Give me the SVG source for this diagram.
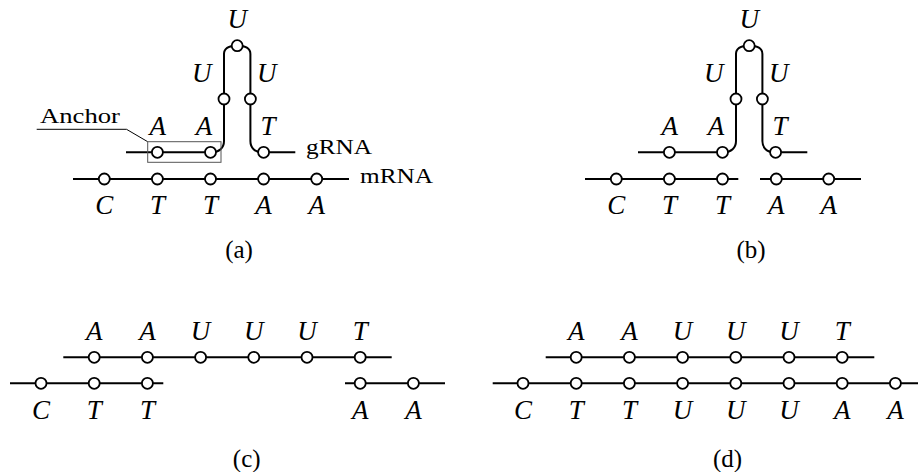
<svg xmlns="http://www.w3.org/2000/svg" width="918" height="472" viewBox="0 0 918 472">
<style>
.s{fill:none;stroke:#000;stroke-width:2}
.n{fill:#fff;stroke:#000;stroke-width:1.8}
.l{font-family:"Liberation Serif","Times New Roman","DejaVu Serif",serif;font-style:italic;font-size:27px;text-anchor:middle;fill:#000}
.t{font-family:"Liberation Serif","Times New Roman","DejaVu Serif",serif;font-size:22px;fill:#000}
.c{font-family:"Liberation Serif","Times New Roman","DejaVu Serif",serif;font-size:25px;text-anchor:middle;fill:#000}
.box{fill:none;stroke:#555;stroke-width:1}
.lead{fill:none;stroke:#000;stroke-width:1}
</style>
<defs>
<circle id="dot" r="5.5" class="n"/>
</defs>

<!-- Panel (a) -->
<g id="panel-a">
  <g id="a-connectors">
    <path class="s" d="M73,179 H349"/>
    <path class="s" d="M126,152.3 H212 C219,152.3 224,148 224,141 V54 C224,48 230,45.7 237.2,45.7 C244.4,45.7 250.4,48 250.4,54 V141 C250.4,148 255,152.3 262,152.3 H295.3"/>
    <path class="lead" d="M36.7,129.3 H126.5 L147.7,141.7"/>
  </g>
  <rect id="a-anchor-box" class="box" x="147.7" y="141.7" width="73.3" height="20.6"/>
  <text id="a-anchor-label" class="t" x="40" y="123" textLength="80" lengthAdjust="spacingAndGlyphs">Anchor</text>
  <text id="a-grna-label" class="t" x="306" y="154.3" textLength="66" lengthAdjust="spacingAndGlyphs">gRNA</text>
  <text id="a-mrna-label" class="t" x="360" y="183.3" textLength="73" lengthAdjust="spacingAndGlyphs">mRNA</text>
  <g id="a-m1"><use href="#dot" x="104.3" y="179"/><text class="l" x="104.3" y="214">C</text></g>
  <g id="a-m2"><use href="#dot" x="157.4" y="179"/><text class="l" x="157.4" y="214">T</text></g>
  <g id="a-m3"><use href="#dot" x="210.5" y="179"/><text class="l" x="210.5" y="214">T</text></g>
  <g id="a-m4"><use href="#dot" x="263.6" y="179"/><text class="l" x="263.6" y="214">A</text></g>
  <g id="a-m5"><use href="#dot" x="316.7" y="179"/><text class="l" x="316.7" y="214">A</text></g>
  <g id="a-g1"><use href="#dot" x="157.4" y="152.3"/><text class="l" x="157.7" y="135">A</text></g>
  <g id="a-g2"><use href="#dot" x="210.5" y="152.3"/><text class="l" x="204" y="135">A</text></g>
  <g id="a-g3"><use href="#dot" x="224" y="99"/><text class="l" x="201.7" y="81.7">U</text></g>
  <g id="a-g4"><use href="#dot" x="237.2" y="45.7"/><text class="l" x="237.3" y="28.3">U</text></g>
  <g id="a-g5"><use href="#dot" x="250.4" y="99"/><text class="l" x="266.7" y="81.7">U</text></g>
  <g id="a-g6"><use href="#dot" x="263.6" y="152.3"/><text class="l" x="268" y="135">T</text></g>
  <text id="a-caption" class="c" x="239" y="258">(a)</text>
</g>

<!-- Panel (b) -->
<g id="panel-b" transform="translate(512,0)">
  <g id="b-connectors">
    <path class="s" d="M73,179 H226.3"/>
    <path class="s" d="M248,179 H349"/>
    <path class="s" d="M126,152.3 H212 C219,152.3 224,148 224,141 V54 C224,48 230,45.7 237.2,45.7 C244.4,45.7 250.4,48 250.4,54 V141 C250.4,148 255,152.3 262,152.3 H295.3"/>
  </g>
  <g id="b-m1"><use href="#dot" x="104.3" y="179"/><text class="l" x="104.3" y="214">C</text></g>
  <g id="b-m2"><use href="#dot" x="157.4" y="179"/><text class="l" x="157.4" y="214">T</text></g>
  <g id="b-m3"><use href="#dot" x="210.5" y="179"/><text class="l" x="210.5" y="214">T</text></g>
  <g id="b-m4"><use href="#dot" x="264.3" y="179"/><text class="l" x="264.3" y="214">A</text></g>
  <g id="b-m5"><use href="#dot" x="316.7" y="179"/><text class="l" x="316.7" y="214">A</text></g>
  <g id="b-g1"><use href="#dot" x="157.4" y="152.3"/><text class="l" x="157.7" y="135">A</text></g>
  <g id="b-g2"><use href="#dot" x="210.5" y="152.3"/><text class="l" x="204" y="135">A</text></g>
  <g id="b-g3"><use href="#dot" x="224" y="99"/><text class="l" x="201.7" y="81.7">U</text></g>
  <g id="b-g4"><use href="#dot" x="237.2" y="45.7"/><text class="l" x="237.3" y="28.3">U</text></g>
  <g id="b-g5"><use href="#dot" x="250.4" y="99"/><text class="l" x="266.7" y="81.7">U</text></g>
  <g id="b-g6"><use href="#dot" x="263.6" y="152.3"/><text class="l" x="268" y="135">T</text></g>
  <text id="b-caption" class="c" x="239" y="258">(b)</text>
</g>

<!-- Panel (c) -->
<g id="panel-c">
  <g id="c-connectors">
    <path class="s" d="M63.3,357.3 H391.7"/>
    <path class="s" d="M10,383.3 H163.3"/>
    <path class="s" d="M345,383.3 H445"/>
  </g>
  <g id="c-g1"><use href="#dot" x="94.2" y="357.3"/><text class="l" x="94.2" y="340">A</text></g>
  <g id="c-g2"><use href="#dot" x="147.4" y="357.3"/><text class="l" x="147.4" y="340">A</text></g>
  <g id="c-g3"><use href="#dot" x="200.6" y="357.3"/><text class="l" x="200.6" y="340">U</text></g>
  <g id="c-g4"><use href="#dot" x="253.8" y="357.3"/><text class="l" x="253.8" y="340">U</text></g>
  <g id="c-g5"><use href="#dot" x="307" y="357.3"/><text class="l" x="307" y="340">U</text></g>
  <g id="c-g6"><use href="#dot" x="360.2" y="357.3"/><text class="l" x="360.2" y="340">T</text></g>
  <g id="c-m1"><use href="#dot" x="41" y="383.3"/><text class="l" x="41" y="419">C</text></g>
  <g id="c-m2"><use href="#dot" x="94.2" y="383.3"/><text class="l" x="94.2" y="419">T</text></g>
  <g id="c-m3"><use href="#dot" x="147.4" y="383.3"/><text class="l" x="147.4" y="419">T</text></g>
  <g id="c-m4"><use href="#dot" x="360.2" y="383.3"/><text class="l" x="360.2" y="419">A</text></g>
  <g id="c-m5"><use href="#dot" x="413.4" y="383.3"/><text class="l" x="413.4" y="419">A</text></g>
  <text id="c-caption" class="c" x="246.7" y="466.5">(c)</text>
</g>

<!-- Panel (d) -->
<g id="panel-d" transform="translate(482,0)">
  <g id="d-connectors">
    <path class="s" d="M63.7,357.3 H392.3"/>
    <path class="s" d="M10.7,383.3 H436"/>
  </g>
  <g id="d-g1"><use href="#dot" x="94.2" y="357.3"/><text class="l" x="94.2" y="340">A</text></g>
  <g id="d-g2"><use href="#dot" x="147.4" y="357.3"/><text class="l" x="147.4" y="340">A</text></g>
  <g id="d-g3"><use href="#dot" x="200.6" y="357.3"/><text class="l" x="200.6" y="340">U</text></g>
  <g id="d-g4"><use href="#dot" x="253.8" y="357.3"/><text class="l" x="253.8" y="340">U</text></g>
  <g id="d-g5"><use href="#dot" x="307" y="357.3"/><text class="l" x="307" y="340">U</text></g>
  <g id="d-g6"><use href="#dot" x="360.2" y="357.3"/><text class="l" x="360.2" y="340">T</text></g>
  <g id="d-m1"><use href="#dot" x="41" y="383.3"/><text class="l" x="41" y="419">C</text></g>
  <g id="d-m2"><use href="#dot" x="94.2" y="383.3"/><text class="l" x="94.2" y="419">T</text></g>
  <g id="d-m3"><use href="#dot" x="147.4" y="383.3"/><text class="l" x="147.4" y="419">T</text></g>
  <g id="d-m4"><use href="#dot" x="200.6" y="383.3"/><text class="l" x="200.6" y="419">U</text></g>
  <g id="d-m5"><use href="#dot" x="253.8" y="383.3"/><text class="l" x="253.8" y="419">U</text></g>
  <g id="d-m6"><use href="#dot" x="307" y="383.3"/><text class="l" x="307" y="419">U</text></g>
  <g id="d-m7"><use href="#dot" x="360.2" y="383.3"/><text class="l" x="360.2" y="419">A</text></g>
  <g id="d-m8"><use href="#dot" x="413.4" y="383.3"/><text class="l" x="413.4" y="419">A</text></g>
  <text id="d-caption" class="c" x="245.5" y="466.5">(d)</text>
</g>
</svg>
